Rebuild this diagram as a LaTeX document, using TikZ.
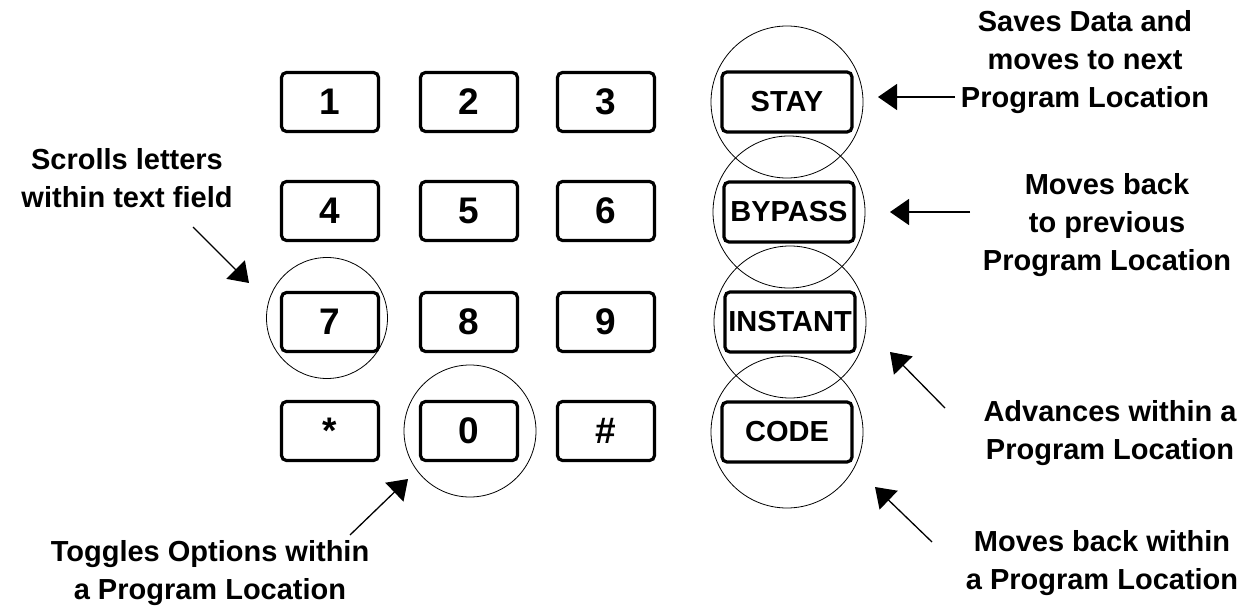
\documentclass[tikz,border=0pt]{standalone}
\usepackage{fontspec}
\setmainfont{Liberation Sans}
\usetikzlibrary{arrows.meta}
\begin{document}
\begin{tikzpicture}[x=1pt,y=-1pt,
  keybox/.style={draw,line width=3.2pt,rounded corners=5pt,minimum width=97pt,minimum height=59pt,inner sep=0pt,font=\bfseries\fontsize{37}{37}\selectfont},
  fnkey/.style={draw,line width=3.2pt,rounded corners=5pt,minimum width=130pt,minimum height=60pt,inner sep=0pt,font=\bfseries\fontsize{29}{29}\selectfont},
  ring/.style={draw,circle,line width=0.8pt,inner sep=0pt},
  note/.style={align=center,font=\bfseries\fontsize{29}{38}\selectfont},
  pointer/.style={line width=1.3pt,-{Triangle[length=19pt,width=26pt]}}]
\useasboundingbox (0,0) rectangle (1255,612);
% keys
\node[keybox] (k1) at (330,102) {1};
\node[keybox] (k2) at (469,102) {2};
\node[keybox] (k3) at (606,102) {3};
\node[keybox] (k4) at (330,211) {4};
\node[keybox] (k5) at (469,211) {5};
\node[keybox] (k6) at (606,211) {6};
\node[keybox] (k7) at (330,322) {7};
\node[keybox] (k8) at (469,322) {8};
\node[keybox] (k9) at (606,322) {9};
\node[keybox] (kstar) at (330,431) {*};
\node[keybox] (k0) at (469,431) {0};
\node[keybox] (khash) at (606,431) {\#};
\node[fnkey] (stay) at (787,102) {STAY};
\node[fnkey] (bypass) at (789,212) {BYPASS};
\node[fnkey] (instant) at (790,322) {INSTANT};
\node[fnkey] (code) at (787,432) {CODE};
% rings
\node[ring,minimum size=152pt] (r1) at (stay.center) {};
\node[ring,minimum size=152pt] (r2) at (bypass.center) {};
\node[ring,minimum size=152pt] (r3) at (instant.center) {};
\node[ring,minimum size=152pt] (r4) at (code.center) {};
\node[ring,minimum size=121pt] (r7) at (327,318) {};
\node[ring,minimum size=132pt] (r0) at (470,431) {};
% notes
\node[note] (n1) at (1085,62) {Saves Data and\\moves to next\\Program Location};
\node[note] (n2) at (1107,225) {Moves back\\to previous\\Program Location};
\node[note] (n3) at (1110,433) {Advances within a\\Program Location};
\node[note] (n4) at (1102,563) {Moves back within\\a Program Location};
\node[note] (n5) at (127,178) {Scrolls letters\\within text field};
\node[note] (n6) at (210,573) {Toggles Options within\\a Program Location};
% arrow ends
\coordinate (t1) at (955,97);
\coordinate (h1) at (878,97);
\coordinate (t2) at (970,212);
\coordinate (h2) at (890,212);
\coordinate (t3) at (945,408);
\coordinate (h3) at (890,352);
\coordinate (t4) at (932,542);
\coordinate (h4) at (875,487);
\coordinate (t5) at (193,227);
\coordinate (h5) at (249,283);
\coordinate (t6) at (350,535);
\coordinate (h6) at (408,479);
\draw[pointer] (t1) -- (h1);
\draw[pointer] (t2) -- (h2);
\draw[pointer] (t3) -- (h3);
\draw[pointer] (t4) -- (h4);
\draw[pointer] (t5) -- (h5);
\draw[pointer] (t6) -- (h6);
\end{tikzpicture}
\end{document}
